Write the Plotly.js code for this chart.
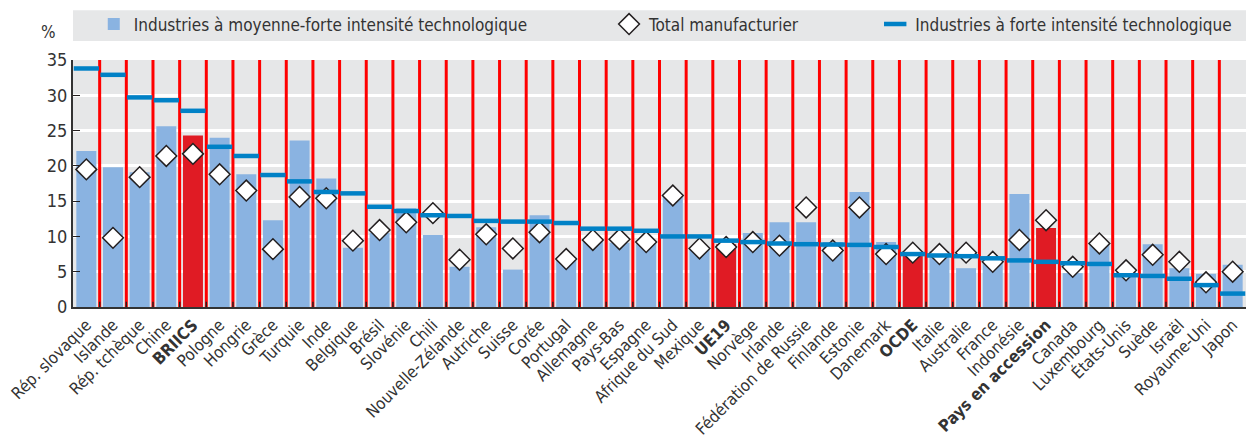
<!DOCTYPE html>
<html><head><meta charset="utf-8">
<script src="https://cdn.plot.ly/plotly-3.0.1.min.js"></script>
<style>body{margin:0;background:#fff}</style></head>
<body><div id="chart" style="width:1254px;height:440px"></div>
<script>
const categories = ["Rép. slovaque","Islande","Rép. tchèque","Chine","BRIICS","Pologne","Hongrie","Grèce","Turquie","Inde","Belgique","Brésil","Slovénie","Chili","Nouvelle-Zélande","Autriche","Suisse","Corée","Portugal","Allemagne","Pays-Bas","Espagne","Afrique du Sud","Mexique","UE19","Norvège","Irlande","Fédération de Russie","Finlande","Estonie","Danemark","OCDE","Italie","Australie","France","Indonésie","Pays en accession","Canada","Luxembourg","États-Unis","Suède","Israël","Royaume-Uni","Japon"];
const mediumHigh = [22.1,19.8,19.1,25.6,24.3,24.0,18.8,12.3,23.6,18.2,8.4,10.5,14.0,10.2,5.7,11.3,5.3,13.0,7.1,9.3,9.1,9.0,15.7,8.3,8.9,10.5,12.0,12.0,9.2,16.3,9.2,7.9,7.9,5.5,6.4,16.0,11.2,4.8,8.9,5.4,8.9,5.5,4.7,6.0];
const totalManuf = [19.5,9.8,18.4,21.4,21.7,18.8,16.5,8.2,15.6,15.4,9.4,10.9,12.0,13.3,6.7,10.3,8.3,10.6,6.8,9.5,9.6,9.2,15.8,8.3,8.5,9.2,8.7,14.1,8.0,14.1,7.5,7.7,7.5,7.7,6.4,9.5,12.3,5.7,9.0,5.2,7.4,6.4,3.5,5.0];
const highTech = [33.8,32.9,29.7,29.3,27.8,22.7,21.4,18.7,17.8,16.3,16.1,14.2,13.6,13.0,12.9,12.2,12.1,12.1,11.9,11.1,11.1,10.8,10.0,10.0,9.4,9.2,9.0,8.9,8.85,8.8,8.5,7.5,7.3,7.2,6.9,6.6,6.4,6.2,6.1,4.5,4.4,4.0,3.1,1.9];
const aggregates = ["BRIICS","UE19","OCDE","Pays en accession"];
const tickLabels = categories.map(c => aggregates.includes(c) ? "<b>" + c + "</b>" : c);
const seriesNames = ["Industries à moyenne-forte intensité technologique","Total manufacturier","Industries à forte intensité technologique"];
const yMax = 35;

const FONT = "'Liberation Sans Narrow','DejaVu Sans Condensed','Arial Narrow',sans-serif";
const idx = categories.map((c, i) => i);
const boundaries = categories.slice(1).map((c, i) => i + 0.5);
const barColors = categories.map(c => aggregates.includes(c) ? "#e01b24" : "#8ab3e1");

const sepX = boundaries.flatMap(b => [b, b, null]);
const sepY = boundaries.flatMap(() => [0, yMax, null]);
const tickY = boundaries.flatMap(() => [0, 0.75, null]);

const traces = [
  {type:"bar", x:idx, y:mediumHigh, name:seriesNames[0], text:categories, hoverinfo:"text+y",
   textposition:"none", marker:{color:barColors}, legend:"legend", showlegend:true},
  {type:"scatter", mode:"lines", x:sepX, y:sepY, line:{color:"#ff0000", width:3},
   hoverinfo:"skip", showlegend:false, connectgaps:false},
  {type:"scatter", mode:"lines", x:sepX, y:tickY, line:{color:"#231f20", width:1.4},
   hoverinfo:"skip", showlegend:false, connectgaps:false},
  {type:"scatter", mode:"markers", x:idx, y:totalManuf, name:seriesNames[1],
   marker:{symbol:"diamond", size:16, color:"#ffffff", line:{color:"#231f20", width:1.5}},
   legend:"legend2"},
  {type:"scatter", mode:"markers", x:idx, y:highTech, name:seriesNames[2],
   marker:{symbol:"line-ew", size:18, color:"#0081c6", line:{color:"#0081c6", width:4.5}},
   legend:"legend3"}
];

const legFont = {family:FONT, size:17, color:"#333333"};
const layout = {
  width:1254, height:440,
  margin:{l:73, r:8, t:59, b:133},
  paper_bgcolor:"#ffffff", plot_bgcolor:"#e6e7e8",
  font:{family:FONT, color:"#333333", size:16},
  bargap:0.25,
  xaxis:{type:"linear", tickmode:"array", tickvals:idx, ticktext:tickLabels,
    tickangle:-45, ticks:"", showgrid:false, showline:true, linecolor:"#333333", linewidth:2,
    zeroline:false, tickfont:{family:FONT, size:16.5, color:"#333333"}, range:[-0.5, categories.length-0.5]},
  yaxis:{range:[0,yMax], dtick:5, tick0:0, ticks:"inside", ticklen:7, tickcolor:"#231f20", tickwidth:1.2,
    showgrid:true, gridcolor:"#ffffff", gridwidth:3, showline:true, linecolor:"#333333", linewidth:2,
    zeroline:false, tickfont:{family:FONT, size:18, color:"#333333"}},
  shapes:[{type:"rect", xref:"paper", yref:"paper", x0:0, x1:1, y0:1.0766, y1:1.2016,
    fillcolor:"#e6e7e8", line:{width:0}, layer:"below"}],
  legend:{x:0.0177, y:1.139, xanchor:"left", yanchor:"middle", orientation:"h", bgcolor:"rgba(0,0,0,0)", font:legFont},
  legend2:{x:0.457, y:1.139, xanchor:"left", yanchor:"middle", orientation:"h", bgcolor:"rgba(0,0,0,0)", font:legFont},
  legend3:{x:0.6839, y:1.139, xanchor:"left", yanchor:"middle", orientation:"h", bgcolor:"rgba(0,0,0,0)", font:legFont},
  annotations:[{text:"%", xref:"paper", yref:"paper", x:-0.013, y:1.115, xanchor:"right", yanchor:"middle",
    showarrow:false, font:{family:FONT, size:17, color:"#333333"}}]
};
Plotly.newPlot("chart", traces, layout, {displayModeBar:false, responsive:false});
</script></body></html>
